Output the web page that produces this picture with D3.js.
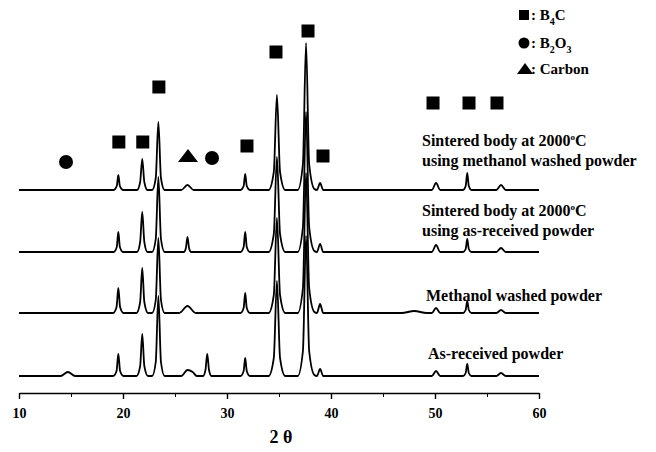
<!DOCTYPE html>
<html>
<head>
<meta charset="utf-8">
<script src="https://cdn.jsdelivr.net/npm/d3@7"></script>
<style>
  body { margin: 0; background: #fff; }
  svg text { font-family: "Liberation Serif", Tinos, "Times New Roman", serif; font-weight: bold; fill: #000; }
</style>
</head>
<body>
<script>
// XRD patterns, [2theta, intensity above own baseline]
var sinteredMethanol = [[10,0],[19.1,0],[19.4,4],[19.55,15],[19.7,4],[20.0,0],[21.35,0],[21.65,8],[21.85,31],[22.05,8],[22.35,0],
  [22.8,0],[23.15,12],[23.4,68],[23.65,12],[24.0,0],[25.6,0],[26.2,5],[26.8,0],[31.3,0],[31.6,4],[31.75,16],[31.9,4],[32.2,0],
  [34.0,0],[34.5,18],[34.8,95],[35.1,18],[35.6,0],[36.8,0],[37.3,26],[37.6,147],[37.9,26],[38.4,1],
  [38.65,0],[38.95,7],[39.25,0],[49.7,0],[50.1,7],[50.5,0],[52.7,0],[52.95,4],[53.1,17],[53.25,4],[53.5,0],
  [55.9,0],[56.35,5],[56.8,0],[60,0]];
var sinteredAsReceived = [[10,0],[19.1,0],[19.4,5],[19.55,20],[19.7,5],[20.0,0],[21.35,0],[21.65,10],[21.85,40],[22.05,10],[22.35,0],
  [22.8,0],[23.15,13],[23.4,75],[23.65,13],[24.0,0],[25.85,0],[26.05,4],[26.2,15],[26.35,4],[26.55,0],[31.3,0],[31.6,5],[31.75,20],[31.9,5],[32.2,0],
  [34.0,0],[34.5,18],[34.8,95],[35.1,18],[35.6,0],[36.8,0],[37.3,25],[37.6,140],[37.9,25],[38.4,1],
  [38.65,0],[38.95,8],[39.25,0],[49.7,0],[50.1,7],[50.5,0],[52.7,0],[52.95,3],[53.1,13],[53.25,3],[53.5,0],
  [55.9,0],[56.35,4],[56.8,0],[60,0]];
var methanolWashed = [[10,0],[19.05,0],[19.38,6],[19.55,25],[19.72,6],[20.05,0],[21.3,0],[21.65,11],[21.85,45],[22.05,11],[22.4,0],
  [22.8,0],[23.15,13],[23.4,75],[23.65,13],[24.0,0],[25.4,0],[26.2,7],[27.0,0],[31.3,0],[31.6,5],[31.75,20],[31.9,5],[32.2,0],
  [34.0,0],[34.5,18],[34.8,95],[35.1,18],[35.6,0],[36.8,0],[37.3,25],[37.6,140],[37.9,25],[38.4,1],
  [38.65,0],[38.95,9],[39.25,0],[46.8,0],[48,2],[49.2,0],[49.7,0],[50.1,5],[50.5,0],[52.7,0],[52.95,3],[53.1,12],[53.25,3],[53.5,0],
  [55.9,0],[56.35,3],[56.8,0],[60,0]];
var asReceived = [[10,0],[14.0,0],[14.7,4],[15.4,0],[19.05,0],[19.38,5],[19.55,22],[19.72,5],[20.05,0],[21.3,0],[21.65,10],[21.85,42],[22.05,10],[22.4,0],
  [22.8,0],[23.15,14],[23.4,80],[23.65,14],[24.0,0],[25.6,0],[26.2,6],[26.7,4],[27.1,0],[27.7,0],[27.93,6],[28.1,22],[28.27,6],[28.5,0],
  [31.3,0],[31.6,5],[31.75,18],[31.9,5],[32.2,0],
  [34.0,0],[34.5,18],[34.8,95],[35.1,18],[35.6,0],[36.8,0],[37.3,25],[37.6,140],[37.9,25],[38.4,1],
  [38.65,0],[38.95,7],[39.25,0],[49.7,0],[50.1,5],[50.5,0],[52.7,0],[52.95,3],[53.1,12],[53.25,3],[53.5,0],
  [55.9,0],[56.35,3],[56.8,0],[60,0]];

var patterns = [sinteredMethanol, sinteredAsReceived, methanolWashed, asReceived];
var offsets = [203, 141, 80, 17];
var seriesLabels = [
  ["Sintered body at 2000°C", "using methanol washed powder"],
  ["Sintered body at 2000°C", "using as-received powder"],
  ["Methanol washed powder"],
  ["As-received powder"]
];
var labelPos = [[422, 140], [422, 210], [426, 295], [428, 353]];

// phase markers [2theta, height]
var b4cMarks = [[19.6,251],[21.9,251],[23.45,306],[31.92,247],[34.71,341],[37.79,362],[39.23,237],[49.81,290],[53.27,290],[55.96,290]];
var b2o3Marks = [[14.52,231],[28.56,235]];
var carbonMarks = [[26.25,237]];
var legendNames = [["B", "4", "C", ""], ["B", "2", "O", "3"], ["Carbon"]];

var xTicks = [10, 20, 30, 40, 50, 60];
var xMinor = [15, 25, 35, 45, 55];

var width = 656, height = 452;

var svg = d3.select('body').append('svg')
  .attr('width', width)
  .attr('height', height);

var x = d3.scaleLinear().domain([10, 60]).range([19, 539]);
var y = d3.scaleLinear().domain([0, 390]).range([393, 3]);

// patterns
var line = d3.line().curve(d3.curveMonotoneX);
patterns.forEach(function(p, i) {
  svg.append('path')
    .attr('d', line(p.map(function(d){ return [x(d[0]), y(d[1] + offsets[i])]; })))
    .attr('fill', 'none')
    .attr('stroke', '#000')
    .attr('stroke-width', 1.8)
    .attr('stroke-linejoin', 'round');
});

// x axis
var axis = svg.append('g')
  .attr('transform', 'translate(0,393)')
  .call(d3.axisBottom(x).tickValues(xTicks).tickSize(6).tickSizeOuter(0).tickPadding(9));
axis.attr('font-family', null);
axis.selectAll('text').style('font-size', '14px');
axis.select('.domain').attr('stroke-width', 1.6);
axis.selectAll('.tick line').attr('stroke-width', 1.4);
svg.append('g')
  .attr('transform', 'translate(0,393)')
  .call(d3.axisBottom(x).tickValues(xMinor).tickSize(4).tickFormat(''))
  .call(function(g){ g.select('.domain').remove(); });

svg.append('text')
  .attr('x', 281).attr('y', 443)
  .attr('text-anchor', 'middle')
  .style('font-size', '18px')
  .text('2 θ');

// markers
svg.selectAll('rect.b4c').data(b4cMarks).enter().append('rect')
  .attr('x', function(d){ return x(d[0]) - 6.5; })
  .attr('y', function(d){ return y(d[1]) - 6.5; })
  .attr('width', 13).attr('height', 13);
svg.selectAll('circle.b2o3').data(b2o3Marks).enter().append('circle')
  .attr('cx', function(d){ return x(d[0]); })
  .attr('cy', function(d){ return y(d[1]); })
  .attr('r', 7);
svg.selectAll('path.carbon').data(carbonMarks).enter().append('path')
  .attr('d', 'M-10,6L10,6L0,-7Z')
  .attr('transform', function(d){ return 'translate(' + x(d[0]) + ',' + y(d[1]) + ')'; });

// series labels
seriesLabels.forEach(function(lines, i) {
  lines.forEach(function(s, j) {
    var t = svg.append('text')
      .attr('x', labelPos[i][0])
      .attr('y', labelPos[i][1] + j * 20)
      .attr('dy', '0.35em')
      .style('font-size', '16px');
    var k = s.indexOf('°');
    if (k >= 0) {
      t.append('tspan').text(s.slice(0, k));
      t.append('tspan').attr('dy', -6).style('font-size', '9px').text('o');
      t.append('tspan').attr('dy', 6).text(s.slice(k + 1));
    } else {
      t.text(s);
    }
  });
});

// legend
var legY = [15, 43, 69];
svg.append('rect').attr('x', 519).attr('y', legY[0] - 5).attr('width', 10).attr('height', 10);
svg.append('circle').attr('cx', 524).attr('cy', legY[1]).attr('r', 5.5);
svg.append('path').attr('d', 'M-8,5L8,5L0,-6Z').attr('transform', 'translate(525,' + legY[2] + ')');
legendNames.forEach(function(n, i) {
  var t = svg.append('text')
    .attr('x', 531).attr('y', legY[i]).attr('dy', '0.35em')
    .style('font-size', '15px');
  if (n.length === 1) {
    t.text(': ' + n[0]);
  } else {
    t.append('tspan').text(': ' + n[0]);
    t.append('tspan').attr('dy', 5).style('font-size', '10px').text(n[1]);
    t.append('tspan').attr('dy', -5).text(n[2]);
    if (n[3]) t.append('tspan').attr('dy', 5).style('font-size', '10px').text(n[3]);
  }
});
</script>
</body>
</html>
